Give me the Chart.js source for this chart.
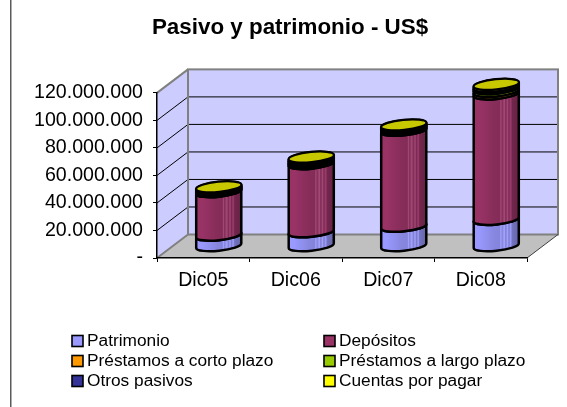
<!DOCTYPE html>
<html><head><meta charset="utf-8">
<style>html,body{margin:0;padding:0;background:#fff}canvas{display:block}</style>
<script src="https://cdn.jsdelivr.net/npm/chart.js@4/dist/chart.umd.min.js"></script>
</head><body>
<canvas id="c" width="567" height="407"></canvas>
<script>
const categories = ["Dic05","Dic06","Dic07","Dic08"];
const patrimonio = [8000000,10500000,14500000,19500000];
const depositos  = [31600000,49500000,69700000,91200000];
const cortoPlazo = [800000,1200000,900000,1800000];
const largoPlazo = [900000,1100000,1000000,2000000];
const otrosPasivos = [800000,1200000,900000,1500000];
const cuentasPagar = [1100000,1300000,1200000,1700000];
const seriesNames = ["Patrimonio","Depósitos","Préstamos a corto plazo","Préstamos a largo plazo","Otros pasivos","Cuentas por pagar"];
const seriesColors = ["#9999ff","#993366","#ff9900","#99cc00","#333399","#ffff00"];
const seriesValues = [patrimonio,depositos,cortoPlazo,largoPlazo,otrosPasivos,cuentasPagar];

const DX = 31, DY = -23.5, TILT = -0.1, RY = 5;
const FONT = "'Liberation Sans', Arial, sans-serif";

function shade(hex, f){
  const n = parseInt(hex.slice(1),16);
  const c = [n>>16&255,n>>8&255,n&255].map(v=>Math.max(0,Math.min(255,Math.round(f>=1? v+(255-v)*(f-1): v*f))));
  return `rgb(${c[0]},${c[1]},${c[2]})`;
}
function bodyFill(ctx,x0,x1,col){
  const g = ctx.createLinearGradient(x0,0,x1,0);
  const stops = [[0,1.0],[.12,1.0],[.45,.88],[.58,.86],[.60,1.12],[.63,.86],[.68,1.12],[.71,.82],[.75,1.1],[.78,.8],[.82,1.05],[.85,.75],[1,.66]];
  stops.forEach(s=>g.addColorStop(s[0],shade(col,s[1])));
  return g;
}
const scene = {
  id:'scene',
  afterLayout(chart){
    // the title is centred over the plot plus a little of the margin, as in the original
    chart.titleBlock.left = 53;
  },
  beforeDraw(chart){
    const {ctx,chartArea:a,scales:{y}} = chart;
    const L=a.left,R=a.right,T=a.top,B=a.bottom;
    ctx.save();
    ctx.fillStyle='#fff';ctx.fillRect(0,0,chart.width,chart.height);
    ctx.strokeStyle='#5a5a5a';ctx.lineWidth=1.5;
    ctx.beginPath();ctx.moveTo(10.75,0);ctx.lineTo(10.75,chart.height);ctx.stroke();
    ctx.fillStyle='#ccccff';
    ctx.fillRect(L+DX,T+DY,R-L,B-T);
    ctx.beginPath();ctx.moveTo(L,T);ctx.lineTo(L+DX,T+DY);ctx.lineTo(L+DX,B+DY);ctx.lineTo(L,B);ctx.closePath();ctx.fill();
    ctx.fillStyle='#c0c0c0';
    ctx.beginPath();ctx.moveTo(L,B);ctx.lineTo(L+DX,B+DY);ctx.lineTo(R+DX,B+DY);ctx.lineTo(R,B);ctx.closePath();ctx.fill();
    ctx.strokeStyle='#000';ctx.lineWidth=1;
    y.ticks.forEach(t=>{
      if(t.value===0||t.value===y.max) return;
      const p=y.getPixelForValue(t.value);
      ctx.beginPath();ctx.moveTo(L,p);ctx.lineTo(L+DX,p+DY);ctx.lineTo(R+DX,p+DY);ctx.stroke();
    });
    ctx.strokeStyle='#808080';ctx.lineWidth=2;
    ctx.strokeRect(L+DX,T+DY,R-L,B-T);
    ctx.beginPath();ctx.moveTo(L,T);ctx.lineTo(L+DX,T+DY);ctx.moveTo(L,B);ctx.lineTo(L+DX,B+DY);ctx.stroke();
    ctx.strokeStyle='#404040';ctx.lineWidth=1;
    ctx.beginPath();ctx.moveTo(R,B);ctx.lineTo(R+DX,B+DY);ctx.stroke();
    ctx.restore();
  },
  afterDatasetsDraw(chart){
    const {ctx}=chart;
    const n=chart.data.labels.length, m=chart.data.datasets.length;
    ctx.save();
    ctx.lineJoin='round';
    for(let i=0;i<n;i++){
      for(let d=0;d<m;d++){
        const el=chart.getDatasetMeta(d).data[i];
        const cx=el.x+DX/2, rx=el.width/2, yb=el.base+DY/2, yt=el.y+DY/2;
        ctx.beginPath();
        ctx.ellipse(cx,yb,rx,RY,TILT,0,Math.PI,false);
        ctx.ellipse(cx,yt,rx,RY,TILT,Math.PI,2*Math.PI,false);
        ctx.closePath();
        ctx.fillStyle=bodyFill(ctx,cx-rx,cx+rx,seriesColors[d]);
        ctx.fill();
        ctx.strokeStyle='#000';ctx.lineWidth=2.5;ctx.stroke();
        ctx.beginPath();
        ctx.ellipse(cx,yt,rx,RY,TILT,0,Math.PI,false);
        ctx.stroke();
        if(d===m-1){
          ctx.beginPath();
          ctx.ellipse(cx,yt,rx,RY,TILT,0,2*Math.PI);
          ctx.fillStyle='#c8c800';ctx.fill();
          ctx.lineWidth=2;ctx.stroke();
        }
      }
    }
    ctx.restore();
  },
  afterDraw(chart){
    const {ctx}=chart;
    const cols=[72,324], rows=[341,361,381];
    ctx.save();
    ctx.font='17.3px '+FONT;ctx.textBaseline='middle';ctx.textAlign='left';
    seriesNames.forEach((name,i)=>{
      const x=cols[i%2], y=rows[Math.floor(i/2)];
      ctx.fillStyle=seriesColors[i];ctx.fillRect(x,y-5.5,11,11);
      ctx.strokeStyle='#000';ctx.lineWidth=1.6;ctx.strokeRect(x,y-5.5,11,11);
      ctx.fillStyle='#000';ctx.fillText(name,x+15,y+0.5);
    });
    ctx.restore();
  }
};
const dotted = v => v===0 ? '-' : String(v).replace(/\B(?=(\d{3})+$)/g,'.');
new Chart(document.getElementById('c'),{
  type:'bar',
  data:{labels:categories,datasets:seriesNames.map((n,i)=>({
    label:n,data:seriesValues[i],backgroundColor:'rgba(0,0,0,0)',borderWidth:0,
    barPercentage:.49,categoryPercentage:1
  }))},
  options:{
    responsive:false,animation:false,
    layout:{padding:{left:13,right:40,top:0,bottom:109}},
    plugins:{
      legend:{display:false},tooltip:{enabled:false},
      title:{display:true,text:"Pasivo y patrimonio - US$",color:'#000',
        font:{family:FONT,size:22.4,weight:'bold'},padding:{top:14,bottom:52}}
    },
    scales:{
      y:{stacked:true,min:0,max:120000000,
        afterFit(s){s.width=144;},
        ticks:{stepSize:20000000,color:'#000',font:{family:FONT,size:19.6},padding:10,callback:dotted,autoSkip:false},
        grid:{drawOnChartArea:false,color:'#000',tickLength:4,tickColor:'#000'},
        border:{color:'#000',width:1.5}},
      x:{stacked:true,
        afterFit(s){s.height=40;},
        ticks:{color:'#000',font:{family:FONT,size:19.6},padding:7,maxRotation:0},
        grid:{drawOnChartArea:false,color:'#000',tickLength:4,tickColor:'#000'},
        border:{color:'#000',width:1.5}}
    }
  },
  plugins:[scene]
});
</script>
</body></html>
